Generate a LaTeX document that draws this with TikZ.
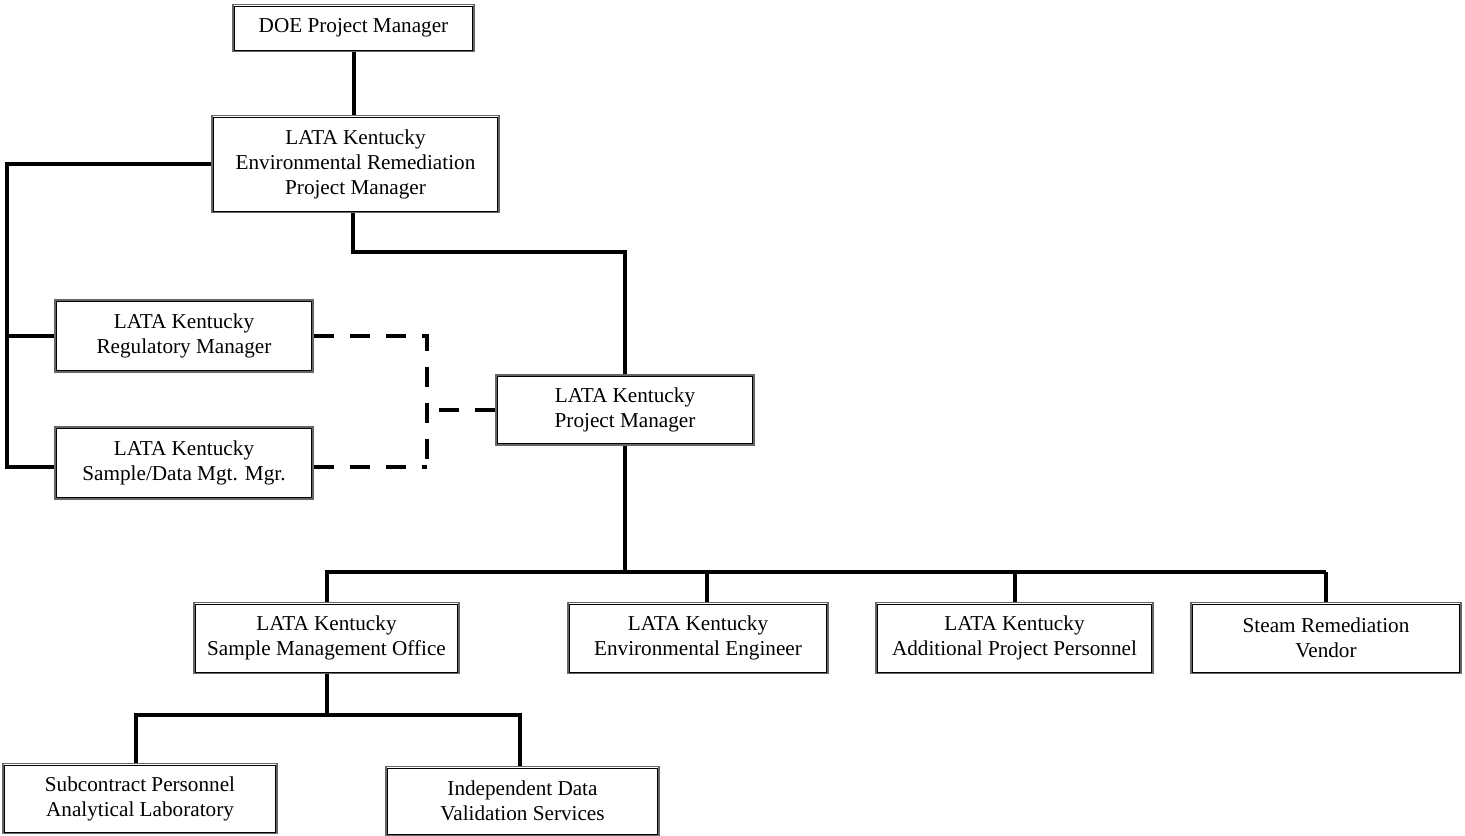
\documentclass[tikz,border=0pt]{standalone}
\usepackage{fontspec}
\setmainfont{Liberation Serif}
\usetikzlibrary{calc}
\begin{document}
\begin{tikzpicture}[x=0.75pt,y=-0.75pt,
  box/.style={draw=black!60, line width=0.8pt,
    fill=white, align=center, inner sep=2pt,
    font=\fontsize{15.9}{18.75}\selectfont},
  inner/.style={draw=black, line width=0.55pt},
  conn/.style={line width=3pt, line join=miter},
  dconn/.style={line width=3pt, dash pattern=on 15pt off 12pt}]
\useasboundingbox (0,0) rectangle (1465,836);
% nodes
\node[box, minimum width={241*0.75pt}, minimum height={47*0.75pt}] (doe) at (353.5,28) {DOE Project Manager};
\node[box, minimum width={287*0.75pt}, minimum height={97*0.75pt}] (erpm) at (355.5,164) {LATA Kentucky\\Environmental Remediation\\Project Manager};
\node[box, minimum width={258*0.75pt}, minimum height={72*0.75pt}] (reg) at (184,336) {LATA Kentucky\\Regulatory Manager};
\node[box, minimum width={258*0.75pt}, minimum height={72*0.75pt}] (sdm) at (184,463) {LATA Kentucky\\Sample/Data Mgt. Mgr.};
\node[box, minimum width={258*0.75pt}, minimum height={70*0.75pt}] (pm) at (625,410) {LATA Kentucky\\Project Manager};
\node[box, minimum width={265*0.75pt}, minimum height={71*0.75pt}] (smo) at (326.5,638) {LATA Kentucky\\Sample Management Office};
\node[box, minimum width={260*0.75pt}, minimum height={71*0.75pt}] (env) at (698,638) {LATA Kentucky\\Environmental Engineer};
\node[box, minimum width={277*0.75pt}, minimum height={71*0.75pt}] (add) at (1014.5,638) {LATA Kentucky\\Additional Project Personnel};
\node[box, minimum width={270*0.75pt}, minimum height={71*0.75pt}] (steam) at (1326,638) {Steam Remediation\\Vendor};
\node[box, minimum width={274*0.75pt}, minimum height={70*0.75pt}] (sub) at (140,798.5) {Subcontract Personnel\\Analytical Laboratory};
\node[box, minimum width={273*0.75pt}, minimum height={69*0.75pt}] (idv) at (522.5,801) {Independent Data\\Validation Services};
% inner lines of the double borders
\foreach \n in {doe,erpm,reg,sdm,pm,smo,env,add,steam,sub,idv}
  \draw[inner] ($(\n.south west)+(1.5pt,1.5pt)$) rectangle ($(\n.north east)+(-1.5pt,-1.5pt)$);
% coordinates
\coordinate (lbus) at (7,164);
\coordinate (ebend) at (353,252);
\coordinate (pbus) at (625,572);
\coordinate (sbus) at (326.5,715);
\coordinate (dv) at (427,336);
% solid connectors
\draw[conn] (doe.south) -- (doe.south |- erpm.north);
\draw[conn] (erpm.west) -- (lbus) -- (7,467) -- (sdm.west |- 0,467);
\draw[conn] (7,336) -- (reg.west);
\draw[conn] (erpm.south -| ebend) -- (ebend) -| (pm.north);
\draw[conn] (pm.south) -- (pbus);
\draw[conn] (325,572) -- (1326,572);
\draw[conn] (pbus -| smo.north) -- (smo.north);
\draw[conn] (707,572) -- ($(env.north)+(9,0)$);
\draw[conn] (pbus -| add.north) -- (add.north);
\draw[conn] (pbus -| steam.north) -- (steam.north);
\draw[conn] (smo.south) -- (sbus);
\draw[conn] ($(sub.north)+(-4,0)$) |- (sbus) -| ($(idv.north)+(-2.5,0)$);
% dashed connectors
\draw[dconn] (reg.east) -- (dv) -- (427,474);
\draw[dconn] (sdm.east |- 0,467) -- (427,467);
\draw[dconn] (pm.west) -- (427,410);
\end{tikzpicture}
\end{document}
